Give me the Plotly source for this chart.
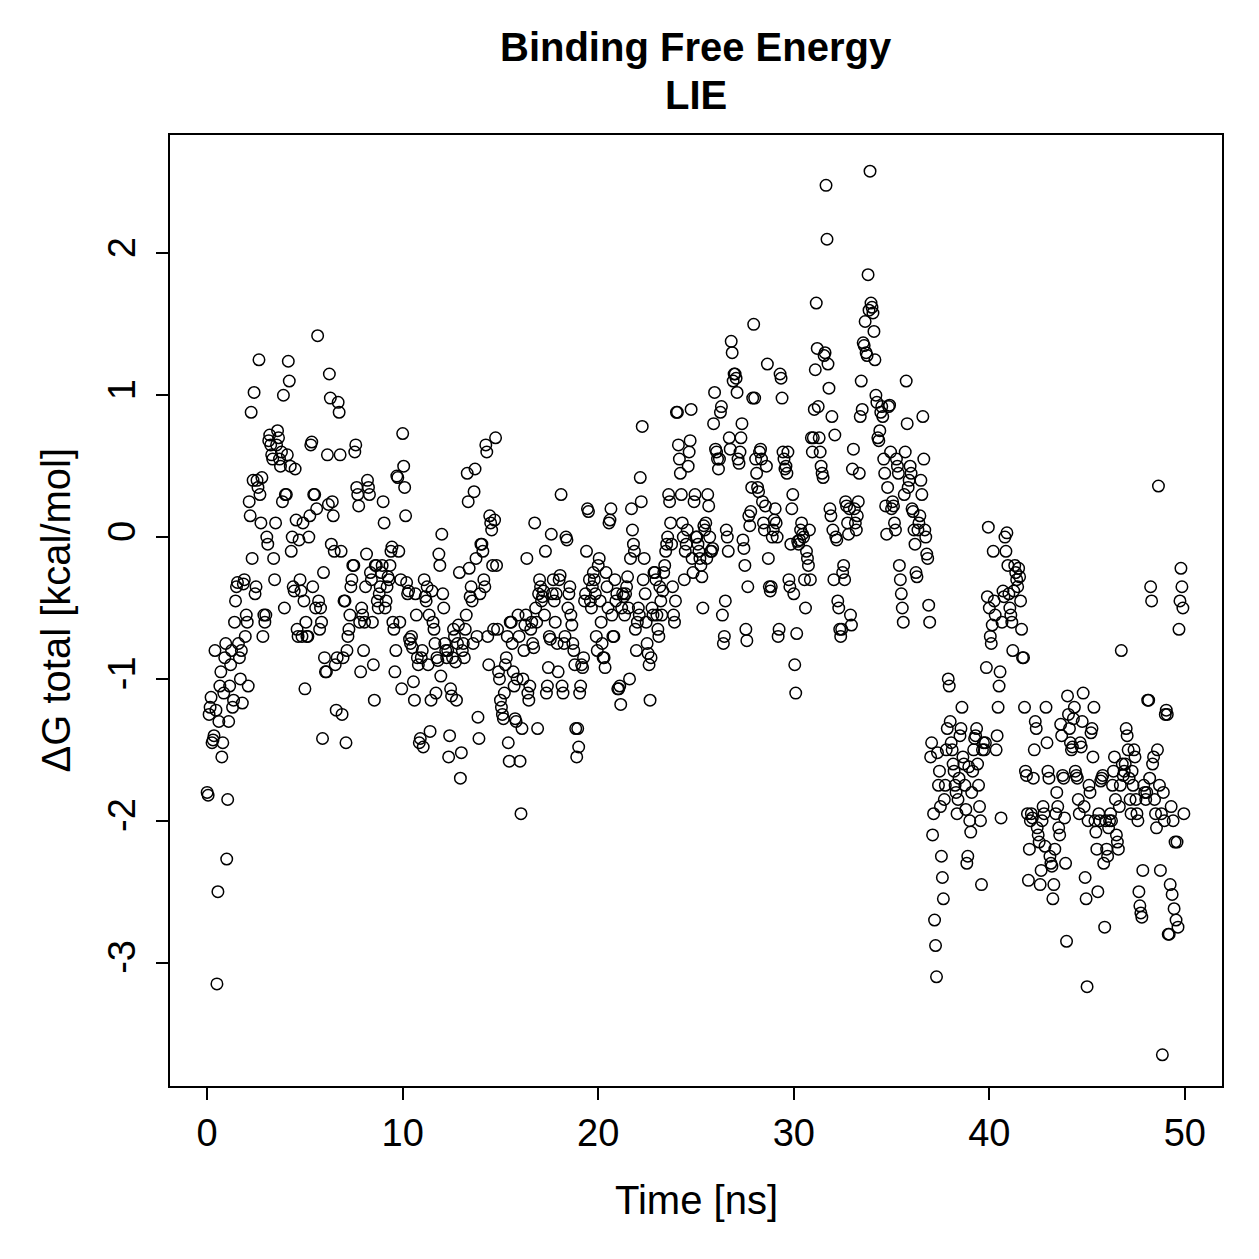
import plotly.graph_objects as go

# Delta G total [kcal/mol], one list per nanosecond of simulation time
seg00 = [-1.8, -1.82, -1.25, -1.2, -1.13, -1.45, -1.43, -1.4, -0.8, -1.22, -3.15, -2.5, -1.3, -1.05, -0.95, -1.55, -1.45, -1.1, -0.85, -0.75]
seg01 = [-2.27, -1.85, -1.3, -1.05, -0.9, -0.8, -1.2, -1.15, -0.6, -0.45, -0.35, -0.32, -0.75, -0.85, -1.0, -0.8, -1.17, -0.33, -0.3, -0.7]
seg02 = [-0.55, -0.6, -1.05, 0.25, 0.15, 0.88, -0.15, 0.4, 1.02, -0.4, -0.35, 0.4, 0.35, 1.25, 0.3, 0.1, 0.42, -0.7, -0.55, -0.6]
seg03 = [-0.55, 0.0, -0.05, 0.68, 0.72, 0.65, 0.58, 0.55, -0.15, -0.3, 0.1, 0.65, 0.75, 0.7, 0.55, 0.5, 0.6, 0.25, 1.0, -0.5]
seg04 = [0.3, 0.3, 0.58, 1.24, 1.1, 0.5, -0.1, 0.0, -0.35, -0.38, 0.48, 0.12, -0.65, -0.7, -0.02, -0.3, -0.38, -0.7, 0.1, -0.45]
seg05 = [-1.07, -0.6, -0.7, -0.7, 0.0, 0.15, 0.65, 0.67, -0.35, 0.3, 0.3, -0.5, 0.2, 1.42, -0.45, -0.65, -0.5, -0.6, -1.42, -0.25]
seg06 = [-0.85, -0.95, -0.95, 0.58, 0.23, 1.15, 0.98, -0.05, 0.25, 0.15, -0.1, -0.9, -1.22, -0.85, 0.95, 0.88, 0.58, -0.1, -1.25, -0.85]
seg07 = [-0.45, -0.45, -1.45, -0.8, -0.7, -0.65, -0.55, -0.35, -0.3, -0.2, -0.2, 0.6, 0.65, 0.35, 0.3, 0.22, -0.6, -0.95, -0.5, -0.55]
seg08 = [-0.8, -0.6, -0.35, -0.12, 0.4, 0.35, 0.3, -0.25, -0.3, -0.6, -0.9, -1.15, -0.2, -0.2, -0.45, -0.5, -0.4, -0.35, -0.25, -0.2]
seg09 = [0.25, 0.1, -0.5, -0.45, -0.35, -0.28, -0.3, -0.2, -0.1, -0.07, -0.6, -0.65, -0.95, -0.8, 0.43, 0.42, -0.1, -0.6, -0.3, -1.07]
seg10 = [0.73, 0.5, 0.35, 0.15, -0.32, -0.4, -0.38, -0.72, -0.75, -0.7, -0.78, -1.02, -1.15, -0.4, -0.55, -0.85, -0.9, -1.45, -1.42, -0.85]
seg11 = [-0.8, -1.48, -0.3, -0.42, -0.45, -0.35, -0.9, -0.55, -1.37, -1.15, -0.38, -0.6, -0.65, -0.75, -1.1, -0.85, -0.87, -0.12, -0.2, -0.98]
seg12 = [0.02, -0.4, -0.5, -0.75, -0.8, -0.85, -0.8, -1.55, -1.4, -1.07, -1.12, -0.85, -0.65, -0.7, -0.88, -1.15, -0.75, -0.62, -0.25, -1.7]
seg13 = [-1.52, -0.8, -0.75, -0.85, -0.65, -0.55, 0.45, 0.25, -0.22, -0.42, -0.35, -0.45, -0.75, 0.32, 0.48, -0.15, -0.7, -1.27, -1.42, -0.4]
seg14 = [-0.05, -0.05, -0.1, -0.3, -0.35, 0.65, 0.6, -0.7, -0.9, 0.15, 0.1, 0.05, -0.2, -0.65, 0.12, 0.7, -0.2, -0.65, -0.95, -1.0]
seg15 = [-1.15, -1.2, -1.25, -1.28, -1.1, -0.9, -0.85, -0.7, -1.45, -1.58, -0.6, -0.6, -0.75, -0.95, -1.05, -1.28, -1.3, -1.0, -0.55, -0.7]
seg16 = [-1.58, -1.95, -1.35, -1.0, -0.8, -0.62, -0.55, -0.15, -1.1, -1.15, -1.05, -0.65, -0.6, -0.75, -0.78, 0.1, -0.5, -0.6, -1.35, -0.4]
seg17 = [-0.3, -0.35, -0.45, -0.42, -0.38, -0.55, -0.1, -1.1, -1.05, -0.92, -0.7, -0.72, 0.02, -0.4, -0.3, -0.45, -0.6, -0.4, -0.75, -0.95]
seg18 = [-0.3, -0.27, 0.3, -1.05, -1.1, -0.75, -0.7, 0.0, -0.02, -0.5, -0.4, -0.35, -0.55, -0.62, -0.75, -0.8, -0.9, -1.35, -1.55, -1.35]
seg19 = [-1.48, -1.1, -1.05, -0.9, -0.92, -0.85, -0.45, -0.4, -0.1, 0.2, 0.18, -0.3, -0.45, -0.5, -0.35, -0.25, -0.3, -0.4, -0.7, -0.8]
seg20 = [-0.2, -0.15, -0.45, -0.6, -0.75, -0.85, -0.85, -0.92, -0.25, -0.35, -0.5, 0.1, 0.12, 0.2, -0.55, -0.7, -0.7, -0.3, -0.45, -0.4]
seg21 = [-1.07, -1.07, -1.05, -1.18, -0.5, -0.4, -0.42, -0.55, -0.4, -0.35, -0.28, -0.5, -1.0, -0.15, 0.2, 0.05, -0.05, -0.1, -0.65, -0.8]
seg22 = [-0.6, -0.5, -0.55, 0.42, 0.25, 0.78, -0.3, -0.15, -0.4, -0.6, -0.75, -0.82, -0.9, -1.15, -0.85, -0.5, -0.55, -0.25, -0.25, -0.3]
seg23 = [-0.55, -0.65, -0.7, -0.35, -0.45, -0.55, -0.38, -0.25, -0.2, -0.1, -0.05, 0.0, 0.3, 0.25, 0.1, -0.05, -0.35, -0.55, -0.6, -0.45]
seg24 = [0.88, 0.88, 0.65, 0.55, 0.45, 0.3, 0.1, 0.0, -0.3, -0.1, -0.05, 0.05, 0.5, 0.6, 0.68, 0.9, -0.15, -0.25, 0.25, 0.3]
seg25 = [0.0, 0.0, -0.05, -0.1, -0.15, -0.2, -0.28, -0.5, 0.08, 0.05, 0.1, -0.15, 0.3, 0.22, 0.0, -0.1, -0.1, -0.08, 0.8, 1.02]
seg26 = [0.62, 0.6, 0.55, 0.48, 0.55, 0.88, 0.92, -0.55, -0.75, -0.7, -0.45, 0.05, 0.0, -0.1, 0.7, 0.62, 1.38, 1.3, 1.1, 1.15]
seg27 = [1.15, 1.12, 1.02, 0.55, 0.52, 0.6, 0.7, 0.8, -0.02, -0.08, -0.2, -0.65, -0.73, -0.35, 0.15, 0.08, 0.18, 0.35, 0.98, 1.5]
seg28 = [0.98, 0.55, 0.45, 0.35, 0.32, 0.6, 0.62, 0.55, 0.25, 0.1, 0.05, 0.22, 0.5, 1.22, -0.15, -0.35, -0.38, -0.35, 0.0, 0.05]
seg29 = [0.12, 0.2, 0.1, 0.0, -0.7, -0.65, 1.15, 1.12, 0.98, 0.6, 0.55, 0.48, 0.5, 0.45, 0.6, -0.3, -0.35, -0.05, 0.2, 0.3]
seg30 = [-0.4, -0.9, -1.1, -0.68, -0.03, -0.05, -0.02, 0.05, 0.1, 0.02, 0.0, -0.3, -0.5, -0.1, -0.15, -0.2, 0.05, -0.3, 0.7, 0.6]
seg31 = [0.7, 0.9, 1.18, 1.65, 1.33, 0.92, 0.7, 0.6, 0.5, 0.45, 0.42, 1.28, 1.3, 2.48, 2.1, 1.22, 1.05, 0.2, 0.15, 0.85]
seg32 = [0.05, -0.3, 0.72, 0.0, -0.02, -0.45, -0.5, -0.65, -0.7, -0.65, -0.25, -0.2, -0.3, 0.25, 0.22, 0.1, 0.02, 0.2, -0.55, -0.62]
seg33 = [0.48, 0.62, 0.2, 0.1, 0.05, 0.15, 0.25, 0.45, 0.85, 1.1, 0.9, 1.37, 1.35, 1.52, 1.3, 1.28, 1.85, 1.6, 2.58, 1.65]
seg34 = [1.62, 1.58, 1.45, 1.25, 1.0, 0.95, 0.7, 0.68, 0.75, 0.88, 0.92, 0.85, 0.55, 0.45, 0.22, 0.02, 0.35, 0.92, 0.93, 0.6]
seg35 = [0.2, 0.25, 0.22, 0.1, 0.05, 0.55, 0.5, 0.45, -0.2, -0.3, -0.4, -0.5, -0.6, 0.3, 0.6, 1.1, 0.8, 0.35, 0.4, 0.5]
seg36 = [0.45, 0.2, 0.18, 0.05, -0.05, -0.25, -0.28, 0.05, 0.1, 0.15, 0.4, 0.3, 0.85, 0.55, 0.05, 0.0, -0.12, -0.15, -0.48, -0.6]
seg37 = [-1.55, -1.45, -2.1, -1.95, -2.7, -2.88, -3.1, -1.52, -1.75, -1.65, -1.9, -2.25, -2.4, -2.55, -1.85, -1.75, -1.5, -1.35, -1.0, -1.05]
seg38 = [-1.3, -1.45, -1.5, -1.6, -1.65, -1.75, -1.8, -1.95, -1.85, -1.7, -1.4, -1.35, -1.2, -1.55, -1.6, -1.75, -1.92, -2.3, -2.25, -1.62]
seg39 = [-2.0, -2.08, -1.8, -1.65, -1.5, -1.42, -1.4, -1.35, -1.6, -1.75, -1.9, -2.0, -2.45, -1.5, -1.45, -1.5, -1.45, -0.92, -0.42, 0.07]
seg40 = [-0.5, -0.7, -0.75, -0.62, -0.1, -0.45, -0.55, -1.5, -1.4, -1.2, -1.05, -0.95, -1.98, -0.6, -0.38, -0.42, 0.0, -0.1, 0.03, -0.2]
seg41 = [-0.4, -0.5, -0.55, -0.6, -0.8, -0.38, -0.2, -0.25, -0.3, -0.35, -0.22, -0.28, -0.45, -0.65, -0.85, -0.85, -1.2, -1.65, -1.68, -1.95]
seg42 = [-2.42, -2.2, -2.0, -1.95, -1.98, -1.7, -1.5, -1.3, -1.35, -2.05, -2.1, -2.15, -2.45, -2.35, -2.0, -1.9, -1.95, -2.18, -1.2, -1.45]
seg43 = [-1.65, -1.7, -2.25, -2.3, -2.32, -2.55, -2.45, -2.2, -1.95, -1.8, -1.9, -2.05, -2.1, -1.32, -1.4, -1.68, -1.7, -1.98, -2.3, -2.85]
seg44 = [-1.12, -1.25, -1.35, -1.45, -1.5, -1.48, -1.28, -1.2, -1.65, -1.68, -1.7, -1.85, -1.95, -1.45, -1.48, -1.3, -1.1, -1.9, -2.4, -2.55]
seg45 = [-3.17, -2.0, -1.75, -1.8, -1.38, -1.35, -1.55, -1.2, -2.0, -2.08, -2.2, -2.5, -1.95, -2.0, -1.72, -1.7, -1.68, -2.3, -2.75, -2.0]
seg46 = [-2.2, -2.25, -2.05, -2.0, -1.95, -2.0, -1.75, -1.65, -1.55, -1.85, -2.1, -2.15, -2.2, -1.9, -1.75, -0.8, -1.6, -1.68, -1.65, -1.6]
seg47 = [-1.35, -1.4, -1.5, -1.7, -1.85, -1.95, -1.65, -1.75, -1.5, -1.55, -1.85, -1.95, -2.0, -2.5, -2.6, -2.65, -2.68, -2.35, -1.75, -1.8]
seg48 = [-1.85, -1.8, -1.15, -1.15, -1.7, -0.35, -0.45, -1.6, -1.55, -1.85, -1.95, -2.05, -1.5, 0.36, -1.75, -2.35, -1.95, -3.65, -1.8, -2.0]
seg49 = [-1.25, -1.22, -1.25, -2.8, -2.8, -2.45, -1.9, -2.52, -2.0, -2.62, -2.15, -2.7, -2.15, -2.75, -0.65, -0.45, -0.22, -0.35, -0.5, -1.95]

segments = [seg00, seg01, seg02, seg03, seg04, seg05, seg06, seg07, seg08, seg09,
            seg10, seg11, seg12, seg13, seg14, seg15, seg16, seg17, seg18, seg19,
            seg20, seg21, seg22, seg23, seg24, seg25, seg26, seg27, seg28, seg29,
            seg30, seg31, seg32, seg33, seg34, seg35, seg36, seg37, seg38, seg39,
            seg40, seg41, seg42, seg43, seg44, seg45, seg46, seg47, seg48, seg49]

x_ticks = [0, 10, 20, 30, 40, 50]
y_ticks = [-3, -2, -1, 0, 1, 2]

time_ns, dg = [], []
for k, seg in enumerate(segments):
    n = len(seg)
    for i, v in enumerate(seg):
        time_ns.append(k + i / n)
        dg.append(v)

FONT = "Liberation Sans, Arial, Helvetica, sans-serif"

fig = go.Figure()
fig.add_trace(go.Scatter(
    x=time_ns, y=dg, mode="markers",
    marker=dict(symbol="circle-open", size=11.5, color="black", line=dict(width=1.5, color="black")),
    showlegend=False,
))

L, R, T, B = 170, 37, 135, 173
fig.update_layout(
    width=1259, height=1259,
    margin=dict(l=L, r=R, t=T, b=B),
    paper_bgcolor="white", plot_bgcolor="white",
    font=dict(family=FONT, size=40, color="black"),
    xaxis=dict(range=[-1.9, 51.9], tickvals=x_ticks, ticktext=[str(v) for v in x_ticks],
               showgrid=False, zeroline=False, showline=True, mirror=True,
               linecolor="black", linewidth=2, ticks="outside", ticklen=12, tickwidth=2,
               tickcolor="black", tickfont=dict(size=38)),
    yaxis=dict(range=[-3.87, 2.835], tickvals=y_ticks, ticktext=[str(v) for v in y_ticks],
               showgrid=False, zeroline=False, showline=True, mirror=True,
               linecolor="black", linewidth=2, ticks="outside", ticklen=12, tickwidth=2,
               tickcolor="black", tickangle=-90, tickfont=dict(size=38), ticklabelstandoff=6),
    annotations=[
        dict(text="<b>Binding Free Energy</b>", x=0.5, y=1 + (T - 47) / 951, xref="paper", yref="paper",
             showarrow=False, xanchor="center", yanchor="middle", font=dict(size=40)),
        dict(text="<b>LIE</b>", x=0.5, y=1 + (T - 95) / 951, xref="paper", yref="paper",
             showarrow=False, xanchor="center", yanchor="middle", font=dict(size=40)),
        dict(text="Time [ns]", x=0.5, y=(1086 - 1200) / 951, xref="paper", yref="paper",
             showarrow=False, xanchor="center", yanchor="middle", font=dict(size=40)),
        dict(text="ΔG total [kcal/mol]", x=(55 - 170) / 1052, y=0.5, xref="paper", yref="paper",
             showarrow=False, xanchor="center", yanchor="middle", textangle=-90, font=dict(size=40)),
    ],
)

fig.write_html("out.html")
